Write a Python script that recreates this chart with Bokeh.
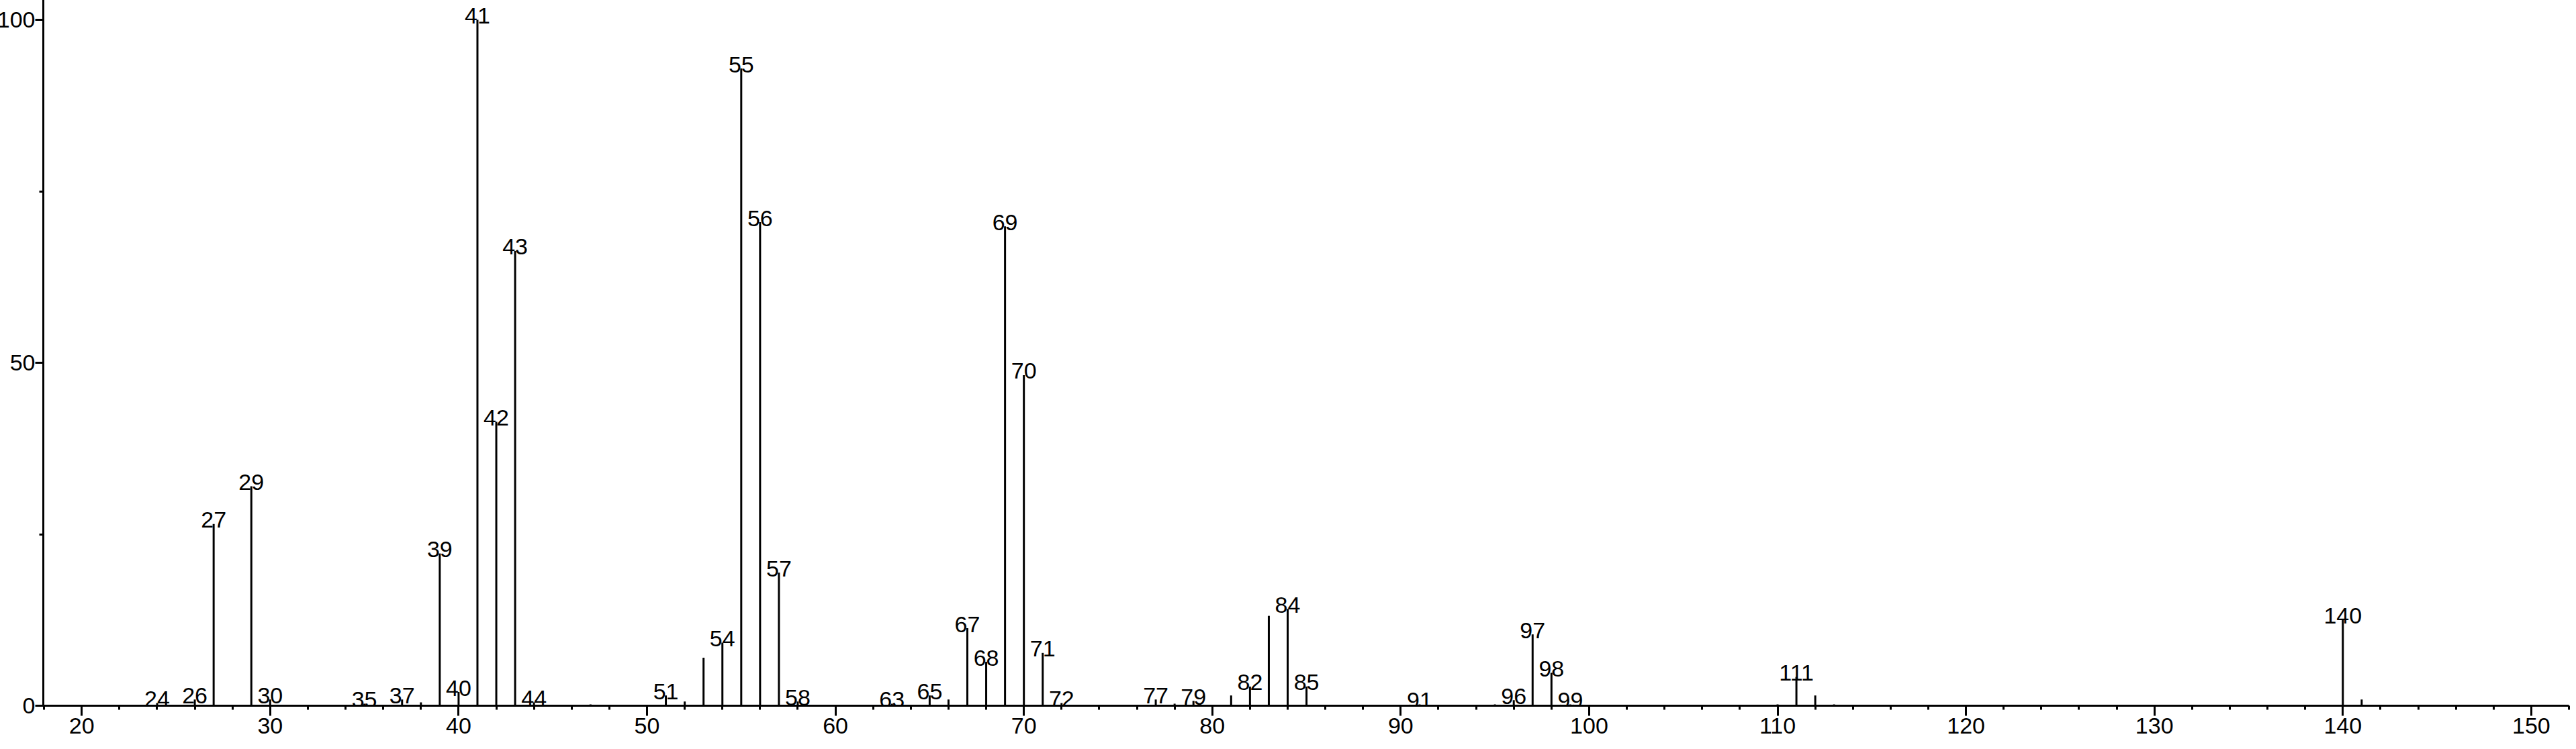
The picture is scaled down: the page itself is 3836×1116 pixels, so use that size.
from bokeh.plotting import figure
from bokeh.models import FixedTicker, Range1d, ColumnDataSource
from bokeh.core.properties import value
from bokeh.embed import file_html
from bokeh.resources import INLINE

# m/z values and relative intensities (%)
mz = [24, 26, 27, 29, 30, 35, 37, 38, 39, 40, 41, 42, 43, 44, 47, 51, 52, 53, 54,
      55, 56, 57, 58, 63, 65, 66, 67, 68, 69, 70, 71, 72, 77, 78, 79, 81, 82, 83,
      84, 85, 91, 95, 96, 97, 98, 99, 110, 111, 112, 113, 140, 141]
intensity = [0.4, 0.9, 26.5, 32.0, 0.9, 0.3, 0.9, 0.5, 22.2, 2.0, 100.0, 41.4, 66.3,
             0.5, 0.2, 1.5, 0.6, 7.0, 9.2, 92.9, 70.5, 19.4, 0.6, 0.3, 1.5, 0.9, 11.3,
             6.4, 69.9, 48.2, 7.7, 0.4, 0.9, 0.3, 0.7, 1.5, 2.8, 13.1, 14.1, 2.8, 0.2,
             0.2, 0.8, 10.4, 4.8, 0.2, 0.2, 4.2, 1.5, 0.2, 12.5, 0.9]

# peaks that carry an m/z label
labeled_mz = [24, 26, 27, 29, 30, 35, 37, 39, 40, 41, 42, 43, 44, 51, 54, 55, 56, 57,
              58, 63, 65, 67, 68, 69, 70, 71, 72, 77, 79, 82, 84, 85, 91, 96, 97, 98,
              99, 111, 140]

# axis ticks
x_major_ticks = [20, 30, 40, 50, 60, 70, 80, 90, 100, 110, 120, 130, 140, 150]
x_minor_ticks = list(range(18, 153, 2))
y_major_ticks = [0, 50, 100]
y_minor_ticks = [25, 75]

FONT = "Liberation Sans"

lookup = dict(zip(mz, intensity))
lab_src = ColumnDataSource(dict(
    x=labeled_mz,
    y=[lookup[m] for m in labeled_mz],
    t=[str(m) for m in labeled_mz],
))
peak_src = ColumnDataSource(dict(x=mz, y0=[0] * len(mz), y1=intensity))

p = figure(width=3836, height=1116, output_backend="svg",
           toolbar_location=None,
           x_range=Range1d(17.96, 152.0), y_range=Range1d(0, 103.33),
           min_border_left=69, min_border_right=3, min_border_top=3,
           min_border_bottom=57)
# cancel the page's 8px body margin on every side so the chart fills the window
p.styles = {"margin": "-8px"}

p.grid.visible = False
p.outline_line_color = None
p.background_fill_color = "white"
p.border_fill_color = "white"

p.segment(x0="x", y0="y0", x1="x", y1="y1", source=peak_src,
          line_color="black", line_width=3)

p.text(x="x", y="y", text="t", source=lab_src, text_align="center",
       text_baseline="alphabetic", y_offset=-6, text_color="black",
       text_font=value(FONT), text_font_size="34px")

xa = p.xaxis[0]
xa.ticker = FixedTicker(ticks=x_major_ticks, minor_ticks=x_minor_ticks)
xa.major_tick_out = 15
xa.major_tick_in = 0
xa.minor_tick_out = 6
xa.minor_tick_in = 0
xa.axis_line_width = 3
xa.major_tick_line_width = 3
xa.minor_tick_line_width = 3
xa.major_label_standoff = 3
xa.major_label_text_font = FONT
xa.major_label_text_font_size = "34px"
xa.major_label_text_color = "black"
xa.axis_line_color = "black"
xa.major_tick_line_color = "black"
xa.minor_tick_line_color = "black"

ya = p.yaxis[0]
ya.ticker = FixedTicker(ticks=y_major_ticks, minor_ticks=y_minor_ticks)
ya.major_tick_out = 12
ya.major_tick_in = 0
ya.minor_tick_out = 6
ya.minor_tick_in = 0
ya.axis_line_width = 3
ya.major_tick_line_width = 3
ya.minor_tick_line_width = 3
ya.major_label_standoff = 0
ya.major_label_text_font = FONT
ya.major_label_text_font_size = "34px"
ya.major_label_text_color = "black"
ya.axis_line_color = "black"
ya.major_tick_line_color = "black"
ya.minor_tick_line_color = "black"

open("out.html", "w").write(file_html(p, INLINE))
